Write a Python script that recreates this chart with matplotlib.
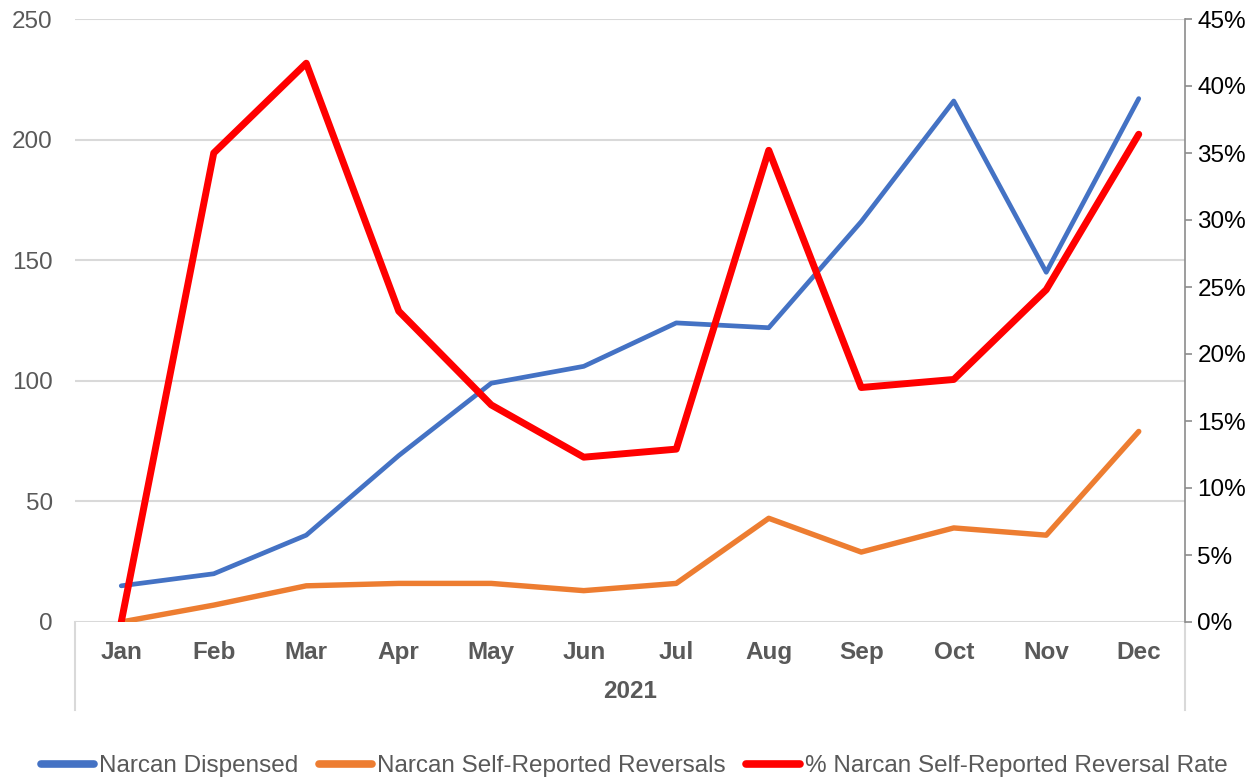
import matplotlib.pyplot as plt
from matplotlib.lines import Line2D

plt.rcParams['font.family'] = ['Liberation Sans', 'DejaVu Sans']

# data
months = ['Jan', 'Feb', 'Mar', 'Apr', 'May', 'Jun', 'Jul', 'Aug', 'Sep', 'Oct', 'Nov', 'Dec']
dispensed = [15, 20, 36, 69, 99, 106, 124, 122, 166, 216, 145, 217]
reversals = [0, 7, 15, 16, 16, 13, 16, 43, 29, 39, 36, 79]
reversal_rate = [0.0, 35.0, 41.7, 23.2, 16.2, 12.3, 12.9, 35.2, 17.5, 18.1, 24.8, 36.4]
year_label = '2021'

W, H = 1248, 779
fig = plt.figure(figsize=(W / 100, H / 100), dpi=100)
ax = fig.add_axes([75 / W, 1 - 622 / H, 1110 / W, 603 / H])
ax2 = ax.twinx()

grey = '#595959'
grid = '#D9D9D9'
fs = 17.5

x = list(range(len(months)))
ax.plot(x, dispensed, color='#4472C4', lw=3.4, solid_capstyle='round', zorder=3)
ax.plot(x, reversals, color='#ED7D31', lw=3.9, solid_capstyle='round', zorder=3)
ax2.plot(x, reversal_rate, color='#FF0000', lw=5, solid_capstyle='round', zorder=4)

ax.set_xlim(-0.5, 11.5)
ax.set_ylim(0, 250)
ax2.set_ylim(0, 45)

ax.set_yticks(range(0, 251, 50))
ax.grid(axis='y', color=grid, lw=1.5)
ax.set_axisbelow(True)
for s in ['top', 'right', 'left', 'bottom']:
    ax.spines[s].set_visible(False)
for s in ['top', 'left', 'bottom']:
    ax2.spines[s].set_visible(False)
ax2.spines['right'].set_color('#8C8C8C')
ax2.spines['right'].set_linewidth(1.2)

ax.tick_params(axis='y', length=0, labelsize=fs, labelcolor=grey, pad=16)
ax.set_xticks(x)
ax.set_xticklabels(months, fontweight='bold')
ax.tick_params(axis='x', length=0, labelsize=fs, labelcolor=grey, pad=14)

ax2.set_yticks(range(0, 46, 5))
ax2.set_yticklabels([f'{v}%' for v in range(0, 46, 5)])
ax2.tick_params(axis='y', length=5, width=1.2, color='#8C8C8C', labelsize=fs,
                labelcolor='#000000', pad=4)

# category box lines below the axis
drop = (710 - 622) / 603
for xx in (0, 1):
    ax.add_line(Line2D([xx, xx], [0, -drop], transform=ax.transAxes,
                       color=grid, lw=1.5, clip_on=False))

ax.text(0.5, -(692 - 622) / 603, year_label, transform=ax.transAxes,
        ha='center', va='center', fontsize=fs, fontweight='bold', color=grey)

handles = [Line2D([], [], color='#4472C4', lw=5.5, solid_capstyle='round'),
           Line2D([], [], color='#ED7D31', lw=5.5, solid_capstyle='round'),
           Line2D([], [], color='#FF0000', lw=5.5, solid_capstyle='round')]
labels = ['Narcan Dispensed', 'Narcan Self-Reported Reversals',
          '% Narcan Self-Reported Reversal Rate']
fig.legend(handles, labels, loc='center', bbox_to_anchor=(634 / W, 1 - 766 / H),
           ncol=3, frameon=False, fontsize=fs, labelcolor=grey,
           handlelength=2.2, handletextpad=0.2, columnspacing=0.85)

fig.savefig('out.png', dpi=100)
